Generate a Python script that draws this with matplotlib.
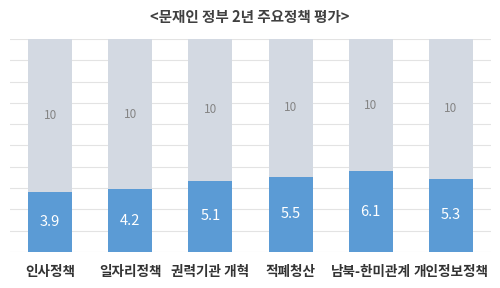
import numpy as np
import matplotlib
matplotlib.use("Agg")
import matplotlib.pyplot as plt

plt.rcParams['font.family'] = ['Noto Sans CJK KR', 'DejaVu Sans']

# data
categories = ["인사정책", "일자리정책", "권력기관 개혁", "적폐청산", "남북-한미관계", "개인정보정책"]
scores = [3.9, 4.2, 5.1, 5.5, 6.1, 5.3]
full_score = [10] * len(categories)
title = "<문재인 정부 2년 주요정책 평가>"

# the blue bars in the original are drawn on their own (offset) scale
blue_lo, blue_hi = -2.4, 20.0

gray = "#D3D9E2"
blue = "#5B9BD5"

fig = plt.figure(figsize=(5, 2.88), dpi=100)
ax = fig.add_axes([0.02, 0.125, 0.962, 0.7396])
x = np.arange(len(categories))
w = 0.55

ax.set_xlim(-0.5, len(categories) - 0.5)
ax.set_ylim(0, 10)
ax.set_yticks(np.arange(0, 11, 1))
ax.yaxis.grid(True, color="#E3E3E3", linewidth=0.8)
ax.set_axisbelow(True)
ax.bar(x, full_score, width=w, color=gray, zorder=2)

ax2 = ax.twinx()
ax2.set_ylim(blue_lo, blue_hi)
vals = np.array(scores)
ax2.bar(x, vals - blue_lo, bottom=blue_lo, width=w, color=blue, zorder=3)

# labels
for i, v in enumerate(scores):
    ax2.text(x[i], (blue_lo + v) / 2, f"{v}", ha="center", va="center",
             color="white", fontsize=10.5)
    ax2.text(x[i], (v + blue_hi) / 2, f"{full_score[i]}", ha="center", va="center",
             color="#858585", fontsize=8.5)

for a in (ax, ax2):
    for s in a.spines.values():
        s.set_visible(False)
    a.tick_params(left=False, right=False, bottom=False,
                  labelleft=False, labelright=False)

ax.set_xticks(x)
ax.set_xticklabels(categories, fontsize=9.8, fontweight="bold", color="#333333")
ax.tick_params(axis="x", pad=6)

fig.text(0.5, 0.94, title, ha="center", va="center", fontsize=10.5,
         fontweight="bold", color="#404040")

fig.savefig("out.png", dpi=100)
